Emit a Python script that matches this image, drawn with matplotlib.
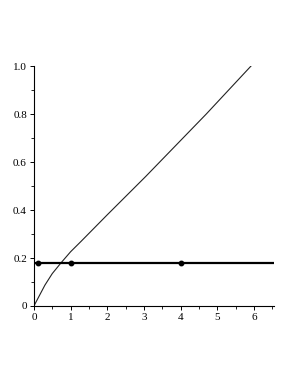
import matplotlib.pyplot as plt
from matplotlib.ticker import MultipleLocator, FuncFormatter

# curve
curve_x = [0, 0.3, 0.5, 0.74, 1.0, 1.29, 2.0, 3.05, 4.7, 5.92]
curve_y = [0, 0.087, 0.135, 0.18, 0.226, 0.27, 0.38, 0.54, 0.80, 1.0]

# horizontal level and its marked points
level = 0.18
dot_x = [0.11, 1.0, 4.0]
x_max = 6.55

plt.rcParams['font.family'] = ['Liberation Serif', 'DejaVu Serif']

fig = plt.figure(figsize=(2.95, 3.82), dpi=100)
ax = fig.add_axes([0.115, 0.199, 0.814, 0.628])

ax.plot(curve_x, curve_y, color='#222222', lw=0.8)
ax.plot([0, x_max], [level, level], color='black', lw=1.6)
ax.plot(dot_x, [level] * len(dot_x), 'o', color='black', ms=3.2)

ax.set_xlim(0, x_max)
ax.set_ylim(0, 1.0)
for s in ['top', 'right']:
    ax.spines[s].set_visible(False)
ax.spines['left'].set_linewidth(0.8)
ax.spines['bottom'].set_linewidth(0.8)

ax.xaxis.set_major_locator(MultipleLocator(1))
ax.xaxis.set_minor_locator(MultipleLocator(0.5))
ax.yaxis.set_major_locator(MultipleLocator(0.2))
ax.yaxis.set_minor_locator(MultipleLocator(0.1))
ax.yaxis.set_major_formatter(FuncFormatter(lambda v, p: '0' if abs(v) < 1e-9 else f'{v:.1f}'))
ax.tick_params(which='major', length=3, width=0.7, labelsize=8, pad=2)
ax.tick_params(which='minor', length=2, width=0.6)

fig.savefig('out.png', dpi=100)
